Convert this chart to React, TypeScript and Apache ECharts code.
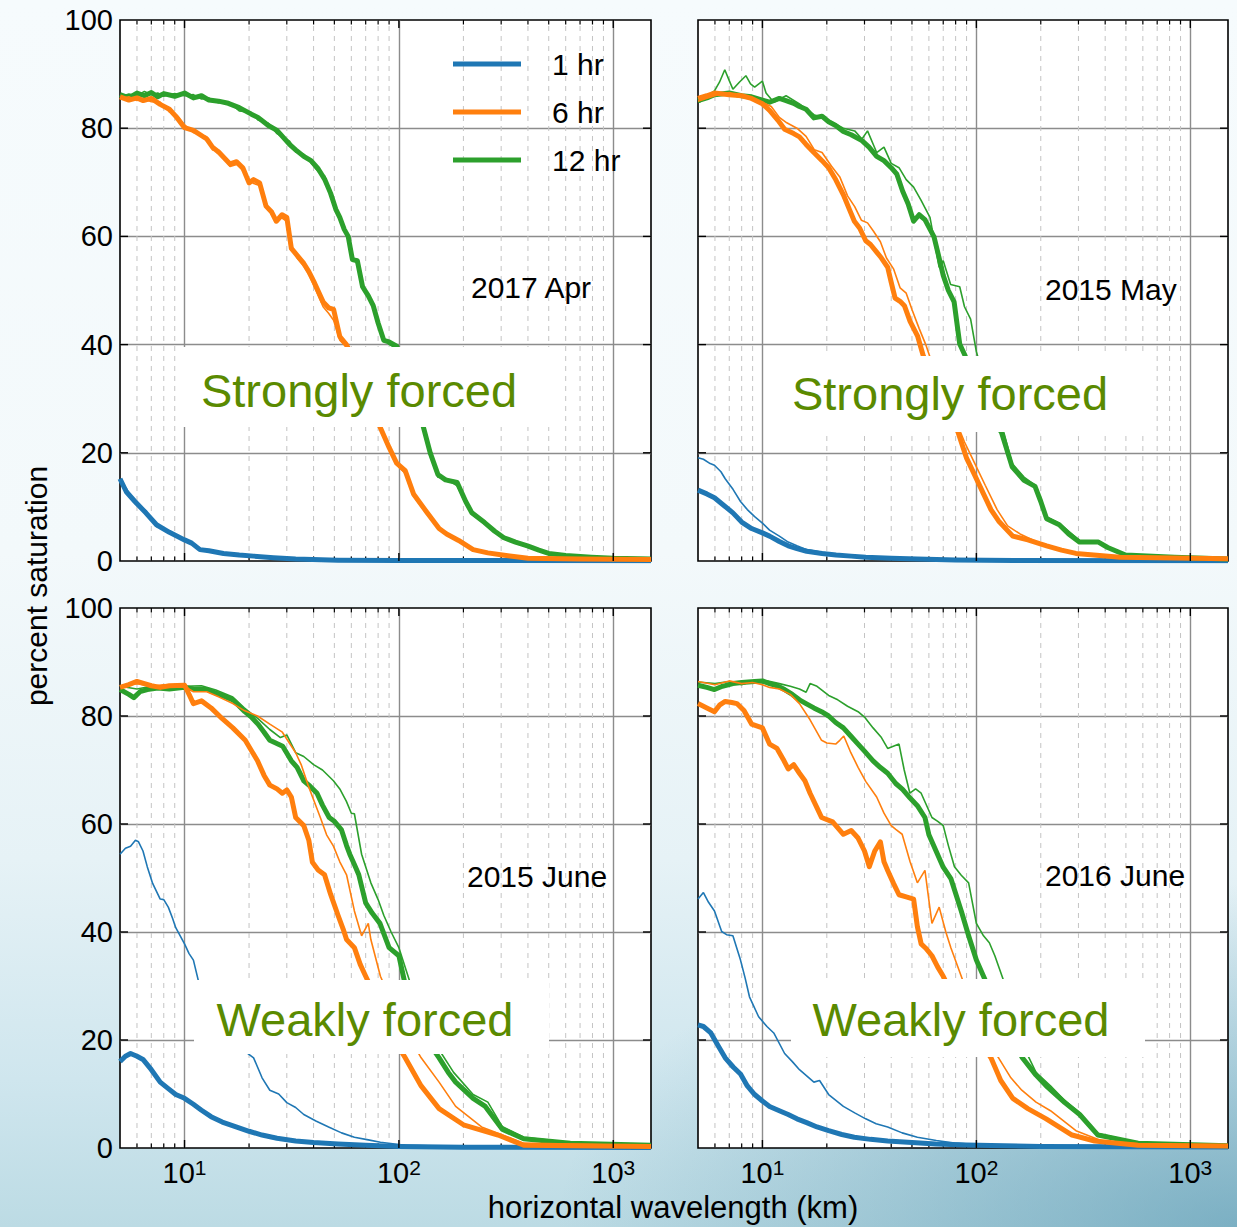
import React, { useEffect, useRef } from 'react';
import * as echarts from 'echarts';

const FONT = '"Liberation Sans", Arial, Helvetica, sans-serif';
const BLUE = '#1f77b4';
const ORANGE = '#ff7f0e';
const GREEN = '#2ca02c';
const LABEL_GREEN = '#5a8a00';

const legendNames = ['1 hr', '6 hr', '12 hr'];
const panelTitles = ['2017 Apr', '2015 May', '2015 June', '2016 June'];
const forcingLabels = ['Strongly forced', 'Strongly forced', 'Weakly forced', 'Weakly forced'];
const yTickValues = [20, 40, 60, 80];
const xMajorTicks = [10, 100, 1000];
const xMinorTicks = [6, 7, 8, 9, 20, 30, 40, 50, 60, 70, 80, 90, 200, 300, 400, 500, 600, 700, 800, 900];

// ---------- 2017 Apr (top left) ----------
const aprBlueThick = [[5,15.2],[5.35,12.8],[5.87,11.0],[6.6,8.9],[7.4,6.7],[8.5,5.3],[10,3.9],[10.8,3.3],[11.8,2.1],[13,1.9],[15.2,1.4],[18,1.1],[21,0.9],[26,0.6],[33,0.35],[52,0.15],[100,0.1],[1500,0.05]];
const aprBlueThin = [[5,14.6],[5.35,13.4],[5.87,10.6],[6.6,9.3],[7.4,6.4],[8.5,5.6],[10,3.7],[10.8,3.5],[11.8,2.3],[13,1.8],[15.2,1.5],[18,1.0],[21,0.85],[26,0.6],[33,0.35],[52,0.15],[100,0.1],[1500,0.05]];
const aprOrangeThick = [[5,85.8],[5.5,85.2],[6,85.6],[6.42,85.1],[7,85.5],[7.7,84.4],[8.5,83.5],[9.2,82.0],[10,80.1],[11,79.6],[12.7,78.0],[13.5,76.5],[14.5,75.5],[16.3,73.4],[17.5,73.8],[18.7,72.7],[20,69.9],[21,70.5],[22.4,69.9],[24,65.6],[25.5,64.5],[26.8,62.8],[28.5,64.0],[30,63.5],[31.5,57.8],[33.5,56.5],[36,55.0],[38,53.5],[40.4,51.4],[44.3,47.9],[47,46.8],[49.6,46.5],[53,41.5],[56.9,40.0],[62,37],[68,33],[75,28.5],[81.6,24.8],[90,21],[97.6,18.1],[107,16.7],[117,12.4],[135,9],[154,6.0],[167,5.0],[190,3.8],[222,2.1],[260,1.5],[304,1.1],[400,0.5],[700,0.35],[1500,0.3]];
const aprOrangeThin = [[5,85.4],[5.5,85.8],[6,85.1],[6.42,85.5],[7,84.9],[7.7,84.8],[8.5,83.0],[9.2,82.4],[10,80.6],[11,79.2],[12.7,78.4],[13.5,76.0],[14.5,75.9],[16.3,72.9],[17.5,73.3],[18.7,72.2],[20,70.4],[21,69.8],[22.4,69.4],[24,66.1],[25.5,64.0],[26.8,63.3],[28.5,63.4],[30,62.8],[31.5,58.4],[33.5,56.0],[36,54.5],[38,53.0],[40.4,50.6],[44.3,47.0],[47,45.8],[49.6,44.5],[53,40.8],[56.9,39.5],[62,36],[68,32],[75,27.5],[81.6,24.3],[90,20.6],[97.6,17.8],[107,16.2],[117,12.0],[135,8.7],[154,5.8],[167,4.8],[190,3.6],[222,2.0],[260,1.4],[304,1.0],[400,0.5],[700,0.35],[1500,0.3]];
const aprGreenThick = [[5,86.2],[5.5,85.6],[6,86.5],[6.5,86.0],[7,86.6],[7.5,85.8],[8,86.4],[9,85.9],[10,86.5],[11,85.6],[12,86.0],[13,85.2],[14.4,85.0],[16,84.6],[18,83.8],[20.5,82.6],[22,82.0],[24.6,80.5],[27,79.6],[30.9,77.0],[33,76.0],[36,74.8],[38.9,74.0],[42,72.5],[45,70.6],[48,68.0],[50.8,65.0],[53,63.5],[55.6,61.3],[58,60.0],[60.7,55.7],[64,55.5],[67.7,50.7],[72,49.0],[75.9,47.2],[80,44.0],[85,40.8],[90,40.5],[97.6,39.7],[110,34],[120,29],[130,24.8],[140,20],[152,16],[165,15],[187,14.5],[205,11],[219,8.9],[251,7.1],[280,5.5],[309,4.3],[350,3.5],[398,2.8],[450,2],[500,1.4],[600,1.0],[790,0.7],[1000,0.5],[1500,0.35]];
const aprGreenThin = [[5,85.8],[5.5,86.3],[6,86.0],[6.5,86.8],[7,86.2],[7.5,86.5],[8,85.9],[9,86.4],[10,86.0],[11,86.2],[12,85.4],[13,85.6],[14.4,84.7],[16,84.9],[18,83.2],[20.5,82.9],[22,81.5],[24.6,80.9],[27,79.0],[30.9,77.6],[33,75.6],[36,75.2],[38.9,73.6],[42,72.0],[45,71.2],[48,67.4],[50.8,65.6],[53,63.0],[55.6,61.8],[58,59.2],[60.7,56.4],[64,54.8],[67.7,51.3],[72,48.6],[75.9,47.6],[80,43.4],[85,41.2],[90,40.0],[97.6,39.3],[110,33.6],[120,28.6],[130,24.5],[140,19.4],[152,15.5],[165,15.3],[187,13.9],[205,10.6],[219,8.6],[251,6.9],[280,5.3],[309,4.1],[350,3.3],[398,2.6],[450,1.9],[500,1.3],[600,0.9],[790,0.6],[1000,0.45],[1500,0.3]];

// ---------- 2015 May (top right) ----------
const mayBlueThick = [[5,13.1],[5.5,12.4],[5.97,11.7],[6.5,10.5],[7.28,8.9],[8,7.2],[8.9,6.0],[10,5.2],[10.8,4.6],[12,3.6],[13.2,2.8],[14.5,2.3],[16.1,1.8],[19,1.4],[22.1,1.1],[26,0.9],[30.4,0.7],[40,0.5],[53,0.35],[80,0.2],[150,0.1],[1500,0.05]];
const mayBlueThin = [[5,19.1],[5.3,18.8],[5.7,18.0],[5.97,17.7],[6.4,16.5],[6.7,15.2],[7.3,13.2],[7.9,11.0],[8.5,9.5],[9.2,8.2],[10,7.0],[10.8,5.7],[12,4.6],[13.2,3.5],[14.5,2.8],[16.1,2.1],[19,1.6],[22.1,1.1],[30,0.7],[40,0.5],[60,0.3],[150,0.1],[1500,0.05]];
const mayOrangeThick = [[5,85.5],[5.5,86],[5.97,86.5],[7,86.2],[8,86],[8.9,85.5],[10,84.5],[10.8,83.3],[11.8,81.5],[12.7,79.8],[14,79],[14.9,78.4],[16,77],[17.4,75.5],[19,74],[20.4,72.7],[22,70.5],[23.9,67.7],[25.5,65],[26.9,62.8],[28.5,61.5],[30.4,59.2],[32,58.5],[34.2,57.1],[36,56],[38.5,54.3],[40,51.5],[41.7,48.6],[44,48],[46.1,47.2],[49,44.3],[53.2,41.5],[56.5,37.9],[62,33.5],[70,29],[77,26],[82.1,23.8],[90,19],[96,16.7],[108,12.4],[117,9.5],[127,7.4],[148,4.6],[174,3.9],[213,2.8],[250,2.0],[292,1.4],[470,0.7],[1500,0.4]];
const mayOrangeThin = [[5,85],[6,86],[7,86.6],[8,85.8],[9,85.2],[10,84.8],[11,84],[12,82],[13,81],[14.5,80],[16,78.5],[17.5,76],[19,75.5],[21,73],[23,71],[25,67.5],[27,65.5],[29,63],[31,62.5],[33,61],[35.6,59],[38,56],[41,54],[44,50.5],[47,49.5],[50,46.5],[54,43],[58,40],[64,35],[72,30],[80,26],[88,22],[97,18.5],[110,14],[125,9.5],[140,6.5],[160,5],[190,3.6],[230,2.6],[300,1.4],[470,0.7],[1500,0.4]];
const mayGreenThick = [[5,85.1],[5.5,85.6],[5.97,86.2],[7,86.5],[8,86],[8.9,85.8],[10,85.2],[10.8,84.8],[12,85.5],[12.9,85.1],[14,84.6],[14.9,84],[16,83.5],[17.4,81.9],[19,82.2],[20.4,81.2],[22,80.5],[23.9,79.4],[26,78.8],[29.2,77.7],[31.5,76.5],[34.2,74.8],[37,74],[40,72.7],[42.5,71.5],[45.2,68.4],[48,66],[50.9,62.8],[54,64],[57.5,63.1],[63.4,59.9],[67,56],[70,52.8],[74,50],[78.7,47.9],[83.6,40.1],[88.7,37.9],[100,32],[115,27],[131,23.8],[147,17.4],[167,14.9],[188,13.8],[200,11],[213,7.8],[244,6.7],[270,5],[303,3.5],[372,3.5],[411,2.5],[498,1.1],[842,0.7],[1500,0.35]];
const mayGreenThin = [[5,85],[5.09,84.8],[5.5,86],[5.97,86.9],[6.3,88.5],[6.67,90.8],[7,88.8],[7.28,87.2],[7.8,88.5],[8.37,89.7],[8.8,88.2],[9.2,87.6],[10,88.7],[10.4,86.5],[11.3,84.8],[12.9,86],[14.9,84.5],[17.4,82.5],[20.4,81.5],[23.9,80],[27,79.5],[29.2,78],[31,79.5],[34.2,75.5],[37,76.5],[40,73.5],[43.5,72.7],[47,70.5],[50.9,69.1],[55.1,66.7],[60.7,63.5],[67,54.3],[70,55.5],[75.8,51.1],[83.6,50.7],[88,47],[94,44.7],[100,38.7],[110,33],[122,28],[135,23.5],[147,18],[167,15.5],[188,14],[213,8.2],[244,7],[303,3.8],[372,3.7],[411,2.7],[498,1.2],[842,0.8],[1500,0.4]];

// ---------- 2015 June (bottom left) ----------
const junBlueThick = [[5,16],[5.3,17],[5.6,17.5],[6,17],[6.4,16.4],[7,14.5],[7.7,12.2],[8.4,11],[9.1,9.9],[10,9.2],[11,8.1],[12,7],[13.3,5.8],[15,4.8],[17.4,3.9],[20,3.1],[23,2.4],[27,1.8],[33,1.3],[40,1],[52,0.75],[70,0.5],[100,0.3],[200,0.15],[1500,0.1]];
const junBlueThin = [[5,54.4],[5.3,55.5],[5.6,55.9],[5.9,57],[6.1,56.7],[6.4,55],[6.7,52.1],[7.1,49],[7.7,46.1],[8,46],[8.4,44.6],[8.8,42.5],[9.1,40.8],[10,37.8],[10.5,36],[11,34.8],[11.6,31],[13,26],[15,21.5],[17,19.5],[19,18],[21,16.7],[23,13],[25,10.7],[27.5,10],[30,8.4],[33,7.5],[36,6.2],[41,5],[47,3.9],[54,2.8],[62,2],[72,1.5],[82,1.05],[107,0.5],[200,0.25],[1500,0.15]];
const junOrangeThick = [[5,85.3],[5.5,85.8],[6,86.4],[6.5,86],[7,85.6],[7.7,85.3],[8.5,85.6],[10,85.7],[10.5,84],[11,82.3],[12,82.8],[13.3,81.5],[15,79.5],[16.8,77.8],[19.2,75.5],[21.9,71.7],[23.5,69],[25,67.2],[27,66.5],[28.6,65.7],[30,66.3],[31.5,65],[33,61.2],[36,59.7],[38,57],[39.5,52.9],[42,51.5],[45,50.6],[48,47],[52,43.1],[55,40.5],[57,38.6],[62,37.1],[66,34],[70,31.8],[80,27],[92,21],[107,16.7],[127,11.5],[154,7.3],[200,4.3],[290,2.4],[382,0.5],[1500,0.3]];
const junOrangeThin = [[5,85.5],[6,86],[7,85.5],[8,85.8],[10,85.5],[11,84.5],[12.7,84.5],[14.5,83.5],[16.8,82.3],[19,81],[21.9,80],[25,78.5],[28.6,77],[33,73.2],[35,71],[37.7,67.2],[40,64.5],[43,61.2],[46,58],[49.5,55.9],[53,53],[57,50.6],[62,43.9],[67,39.3],[72,41.6],[74,38.6],[82,31.8],[95,26],[110,21],[127,16.7],[154,12.2],[184,7.7],[243,3.9],[382,0.9],[1500,0.4]];
const junGreenThick = [[5,84.9],[5.5,84],[5.8,83.4],[6.2,84.5],[6.7,84.9],[7.5,85.2],[8.5,85],[10,85.3],[11,85],[12.7,84.9],[14.5,84],[16.8,83],[19.1,80.8],[20.5,79.8],[22,78.5],[23.5,77],[25,75.5],[28.7,74.4],[31.5,71.7],[33.5,70.5],[36,68],[38.5,67],[41.5,65.7],[44,63.5],[47.3,61.2],[50,60.5],[54,58.9],[57,56],[59,54.4],[62,52.5],[65,50.6],[70,45.4],[75,43.5],[81.6,41.6],[90,37.1],[100,35.6],[106,31],[120,25],[135,20],[154,16.7],[170,14],[184,12.2],[222,9.2],[253,7.7],[303,3.5],[382,1.7],[630,0.9],[1500,0.5]];
const junGreenThin = [[5,85.5],[6,85],[7,85.5],[8,85.2],[10,85.5],[12,85.6],[14,84.8],[16.8,83.5],[19,81.5],[22,79.5],[25,77.5],[28,76],[30,76.5],[33,73.2],[36,72.5],[40,71],[44,70],[49.5,68],[53,66.5],[56.9,64.2],[60,62],[62,61.9],[67,54.4],[74,49.1],[80,46],[85,43.1],[92,40],[100,37.1],[112,31],[125,26],[140,21],[154,18.2],[180,14],[222,9.9],[260,8.5],[303,4],[382,2],[630,1],[1500,0.5]];

// ---------- 2016 June (bottom right) ----------
const j16BlueThick = [[5,22.8],[5.3,22.5],[5.74,21.3],[6.2,19],[6.7,16.7],[7.3,15],[7.9,13.7],[8.5,11.5],[9.2,9.9],[10,8.7],[10.8,7.7],[12,6.9],[13.2,6.2],[14.5,5.4],[16.1,4.7],[18,3.9],[20.4,3.2],[23.5,2.5],[26.9,2],[32,1.6],[38.5,1.3],[50,1],[64.5,0.75],[90,0.55],[117,0.45],[200,0.3],[1500,0.2]];
const j16BlueThin = [[5,46.1],[5.3,47.3],[5.6,45.5],[5.97,43.9],[6.45,40.1],[6.8,39.5],[7.28,39.3],[7.9,34.8],[8.3,31.5],[8.7,28],[9.6,24.3],[10.5,22.5],[11.3,21.3],[12.7,17.5],[13.8,16],[14.9,14.5],[17.4,12.2],[18.5,12.5],[20.4,9.9],[23.9,7.7],[27,6.5],[30.4,5.4],[34,4.5],[38.5,3.9],[45,2.8],[53,2],[65,1.4],[79,0.9],[117,0.45],[200,0.3],[1500,0.2]];
const j16OrangeThick = [[5,82.3],[5.5,81.5],[5.97,80.8],[6.3,82],[6.7,82.7],[7.2,82.5],[7.6,82.3],[8.2,81],[8.9,78.5],[10,77.8],[10.8,74.8],[11.7,74],[12.5,72],[13.2,70.2],[14,71],[14.9,69.4],[15.8,68],[16.7,65.7],[18,63],[18.9,61.2],[21.3,60.4],[23.9,58.1],[26,58.8],[28,57.4],[30,55],[31.6,52.1],[33.5,55],[35.6,56.7],[37,53],[38.5,51.4],[41,49],[43.5,46.9],[47,46.5],[50.9,46.1],[53,41],[55.2,37.8],[58,37],[62,35.6],[66,33.5],[70,31.8],[85,25],[100,21],[117,16.7],[130,12.5],[148,9.2],[174,7.3],[212,5.4],[280,2.4],[357,1.3],[570,0.5],[1500,0.35]];
const j16OrangeThin = [[5,86.4],[6,85.8],[7,86.5],[8,86],[9,86.2],[10,85.8],[10.8,85.3],[12,85],[13.5,84],[14.9,82.3],[16.7,79.3],[18.9,75.5],[20,75],[22,74.8],[23,75.5],[24,76.3],[25.9,73.2],[28,70.5],[30.4,67.9],[34.2,65],[37,62],[40,59.7],[42,59],[45,58.1],[49,53],[53,49.1],[57.5,51.4],[62,41.6],[67,44.6],[72,40],[76,37.1],[85,31.8],[100,24],[115,19],[127,16.7],[145,13],[163,10.7],[190,8.5],[222,6.9],[292,3.2],[387,1.3],[700,0.5],[1500,0.35]];
const j16GreenThick = [[5,85.7],[5.5,85.3],[5.97,84.9],[6.5,85.5],[7.28,86],[8,86.2],[9.2,86.4],[10,86.5],[10.8,86],[11.7,85.6],[12.7,84.9],[13.8,84],[14.9,83],[16,82.3],[17.4,81.5],[18.9,80.8],[20.4,80],[22,78.8],[23.9,77.8],[26,76.2],[28,74.8],[30,73.5],[32.9,71.7],[35.5,70.5],[38.5,69.4],[42,67.5],[45.2,66.4],[49,64.8],[53,63.4],[57.5,61.2],[60,58],[64.5,55.2],[70,52],[76,49.9],[85,43.9],[92,39.3],[100,34.8],[108,31.8],[125,26],[145,20.5],[164,16.7],[190,13.5],[212,11.5],[259,8.4],[304,6.2],[370,2.4],[570,0.9],[1500,0.4]];
const j16GreenThin = [[5,86.3],[6,86],[7,86.4],[8,85.8],[9.2,86.6],[10.5,86.5],[12,86],[13.5,85.5],[14.9,85],[16,84.4],[16.7,86],[18,85.5],[20.4,83.8],[22.5,83],[25,81.8],[28,80.8],[30,79.8],[32.9,77.8],[36,76],[38.5,74],[43.5,74.8],[46,70],[48.9,65.7],[52,66.5],[55.2,65.7],[62,61.2],[66,60.5],[70,59.7],[74,56],[79,52.1],[85,50.5],[92,49.1],[100,41.6],[108,39.3],[115,38],[122,35.6],[134,31],[150,25],[170,18],[190,14],[222,11.5],[259,8.8],[304,6.5],[370,2.7],[570,1],[1500,0.45]];

const panelData = [
  { blue: [aprBlueThick, aprBlueThin], orange: [aprOrangeThick, aprOrangeThin], green: [aprGreenThick, aprGreenThin] },
  { blue: [mayBlueThick, mayBlueThin], orange: [mayOrangeThick, mayOrangeThin], green: [mayGreenThick, mayGreenThin] },
  { blue: [junBlueThick, junBlueThin], orange: [junOrangeThick, junOrangeThin], green: [junGreenThick, junGreenThin] },
  { blue: [j16BlueThick, j16BlueThin], orange: [j16OrangeThick, j16OrangeThin], green: [j16GreenThick, j16GreenThin] },
];

// layout (positions, not data)
const grids = [
  { left: 120, top: 20, width: 531, height: 541 },
  { left: 698, top: 20, width: 530, height: 541 },
  { left: 120, top: 608, width: 531, height: 540 },
  { left: 698, top: 608, width: 530, height: 540 },
];
const showXLabels = [false, false, true, true];
const showYLabels = [true, false, true, false];
const titlePos = [[471, 287], [1045, 289], [467, 876], [1045, 875]];
const boxRects = [[176, 347, 376, 80], [769, 356, 386, 76], [194, 980, 355, 74], [791, 979, 354, 78]];
const boxTextPos = [[359, 390], [950, 393], [365, 1019], [961, 1019]];

export default function App() {
  const ref = useRef<HTMLDivElement>(null);
  useEffect(() => {
    const chart = echarts.init(ref.current as HTMLDivElement, null, { renderer: 'svg' });

    const xAxes: any[] = [];
    const yAxes: any[] = [];
    const series: any[] = [];

    grids.forEach((g, gi) => {
      xAxes.push({
        type: 'log', logBase: 10, gridIndex: gi, min: 5, max: 1500,
        axisLine: { show: false }, axisTick: { show: false }, minorTick: { show: false },
        splitLine: { show: true, showMinLine: false, showMaxLine: false, lineStyle: { color: '#8c8c8c', width: 1.4 } },
        axisLabel: {
          show: showXLabels[gi], margin: 9,
          formatter: (v: number) => {
            const e = Math.log10(v);
            const r = Math.round(e);
            if (Math.abs(e - r) < 1e-6 && v > 6 && v < 1400) return `{b|10}{s|${r}}`;
            return '';
          },
          rich: {
            b: { fontSize: 29, fontFamily: FONT, color: '#000', lineHeight: 30, verticalAlign: 'bottom' },
            s: { fontSize: 21, fontFamily: FONT, color: '#000', lineHeight: 15, verticalAlign: 'top' },
          },
        },
      });
      yAxes.push({
        type: 'value', gridIndex: gi, min: 0, max: 100, interval: 20,
        axisLine: { show: false }, axisTick: { show: false },
        splitLine: { show: true, showMinLine: false, showMaxLine: false, lineStyle: { color: '#8c8c8c', width: 1.4 } },
        axisLabel: { show: showYLabels[gi], margin: 7, fontSize: 29, fontFamily: FONT, color: '#000' },
      });

      // minor dashed grid + minor ticks
      series.push({
        type: 'custom', xAxisIndex: gi, yAxisIndex: gi, silent: true, z: 1,
        data: xMinorTicks.map((w) => [w, 0]),
        renderItem: (_p: any, api: any) => {
          const w = api.value(0);
          const b = api.coord([w, 0]);
          const t = api.coord([w, 100]);
          return {
            type: 'group',
            children: [
              { type: 'line', shape: { x1: b[0], y1: b[1], x2: t[0], y2: t[1] }, style: { stroke: '#c4c4c4', lineWidth: 1, lineDash: [5, 5] } },
              { type: 'line', shape: { x1: b[0], y1: b[1], x2: b[0], y2: b[1] - 4.5 }, style: { stroke: '#000', lineWidth: 1.2 } },
              { type: 'line', shape: { x1: t[0], y1: t[1], x2: t[0], y2: t[1] + 4.5 }, style: { stroke: '#000', lineWidth: 1.2 } },
            ],
          };
        },
      });
      // major x ticks
      series.push({
        type: 'custom', xAxisIndex: gi, yAxisIndex: gi, silent: true, z: 5,
        data: xMajorTicks.map((w) => [w, 0]),
        renderItem: (_p: any, api: any) => {
          const w = api.value(0);
          const b = api.coord([w, 0]);
          const t = api.coord([w, 100]);
          return {
            type: 'group',
            children: [
              { type: 'line', shape: { x1: b[0], y1: b[1], x2: b[0], y2: b[1] - 8 }, style: { stroke: '#000', lineWidth: 1.4 } },
              { type: 'line', shape: { x1: t[0], y1: t[1], x2: t[0], y2: t[1] + 8 }, style: { stroke: '#000', lineWidth: 1.4 } },
            ],
          };
        },
      });
      // y ticks left and right
      series.push({
        type: 'custom', xAxisIndex: gi, yAxisIndex: gi, silent: true, z: 5,
        data: yTickValues.map((v) => [5, v]),
        renderItem: (_p: any, api: any) => {
          const v = api.value(1);
          const l = api.coord([5, v]);
          const r = api.coord([1500, v]);
          return {
            type: 'group',
            children: [
              { type: 'line', shape: { x1: l[0], y1: l[1], x2: l[0] + 8, y2: l[1] }, style: { stroke: '#000', lineWidth: 1.4 } },
              { type: 'line', shape: { x1: r[0], y1: r[1], x2: r[0] - 8, y2: r[1] }, style: { stroke: '#000', lineWidth: 1.4 } },
            ],
          };
        },
      });

      const pd = panelData[gi];
      const groups: [string, string, any[][]][] = [
        [legendNames[0], BLUE, pd.blue],
        [legendNames[2], GREEN, pd.green],
        [legendNames[1], ORANGE, pd.orange],
      ];
      groups.forEach(([name, color, [thick, thin]]) => {
        series.push({
          type: 'line', name, data: thick, xAxisIndex: gi, yAxisIndex: gi,
          showSymbol: false, symbol: 'none', silent: true, z: 3,
          lineStyle: { color, width: 5, join: 'round' }, itemStyle: { color },
          emphasis: { disabled: true },
        });
        series.push({
          type: 'line', name, data: thin, xAxisIndex: gi, yAxisIndex: gi,
          showSymbol: false, symbol: 'none', silent: true, z: 3,
          lineStyle: { color, width: 1.6 }, itemStyle: { color },
          emphasis: { disabled: true },
        });
      });
    });

    const graphic: any[] = [];
    panelTitles.forEach((t, i) => {
      graphic.push({
        type: 'text', x: titlePos[i][0], y: titlePos[i][1], z: 50,
        style: { text: t, fill: '#000', fontSize: 30, fontFamily: FONT, align: 'left', verticalAlign: 'middle' },
      });
    });
    boxRects.forEach((b, i) => {
      graphic.push({ type: 'rect', z: 100, shape: { x: b[0], y: b[1], width: b[2], height: b[3] }, style: { fill: '#ffffff' } });
      graphic.push({
        type: 'text', z: 101, x: boxTextPos[i][0], y: boxTextPos[i][1],
        style: { text: forcingLabels[i], fill: LABEL_GREEN, fontSize: 47, fontFamily: FONT, align: 'center', verticalAlign: 'middle' },
      });
    });
    graphic.push({
      type: 'text', x: 36, y: 586, rotation: Math.PI / 2, z: 50,
      style: { text: 'percent saturation', fill: '#000', fontSize: 30, fontFamily: FONT, align: 'center', verticalAlign: 'middle' },
    });
    graphic.push({
      type: 'text', x: 673, y: 1207, z: 50,
      style: { text: 'horizontal wavelength (km)', fill: '#000', fontSize: 31, fontFamily: FONT, align: 'center', verticalAlign: 'middle' },
    });

    chart.setOption({
      animation: false,
      backgroundColor: 'transparent',
      grid: grids.map((g) => ({ ...g, show: true, backgroundColor: '#ffffff', borderColor: '#000', borderWidth: 1.6, containLabel: false })),
      xAxis: xAxes,
      yAxis: yAxes,
      legend: {
        show: true, orient: 'vertical', left: 453, top: 49, padding: 0, itemWidth: 68, itemHeight: 5, itemGap: 18,
        icon: 'rect', selectedMode: false, data: legendNames,
        formatter: (n: string) => `{t|${n}}`,
        textStyle: {
          color: '#000', fontSize: 30, fontFamily: FONT,
          rich: { t: { color: '#000', fontSize: 30, fontFamily: FONT, lineHeight: 30, padding: [0, 0, 0, 26] } },
        },
      },
      graphic,
      series,
    });
    return () => chart.dispose();
  }, []);

  return (
    <div
      ref={ref}
      style={{
        position: 'absolute', left: 0, top: 0, width: 1237, height: 1227,
        background:
          'radial-gradient(ellipse 55% 28% at 100% 100%, rgba(70,140,168,0.55), rgba(70,140,168,0) 100%), linear-gradient(to bottom, #f6fbfd 0%, #f3f9fb 45%, #e6f2f6 70%, #cfe6ee 88%, #bcdbe4 100%)',
      }}
    />
  );
}
